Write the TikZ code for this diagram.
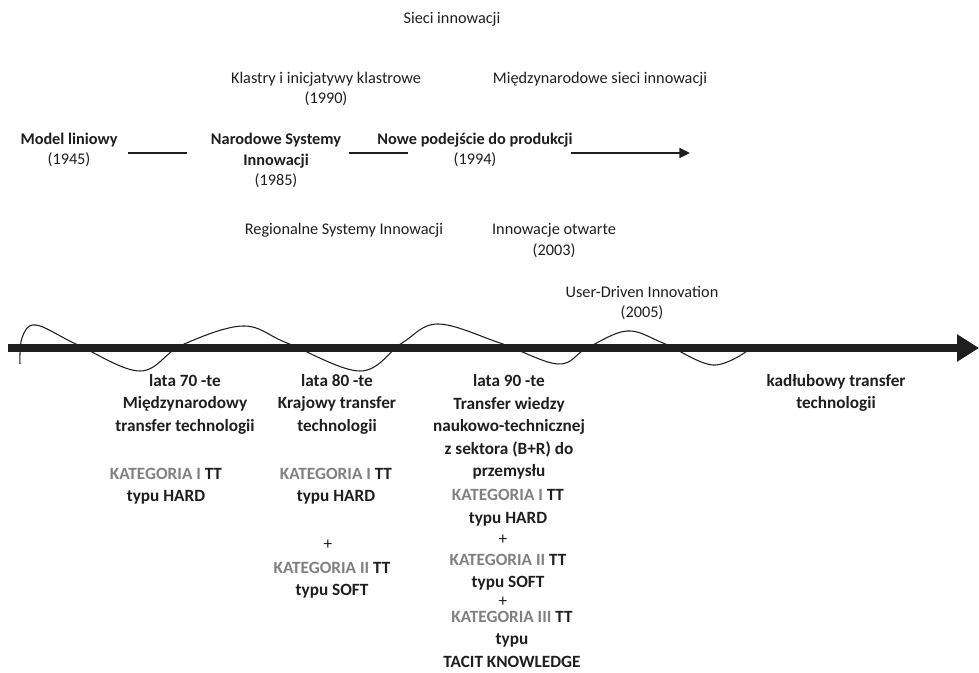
\documentclass[tikz,border=0pt]{standalone}
\usepackage{fontspec}
\setmainfont{Carlito}
\usetikzlibrary{arrows.meta}
\definecolor{catgray}{RGB}{128,128,128}
\definecolor{ink}{RGB}{30,30,30}

\begin{document}
\begin{tikzpicture}[x=0.75pt,y=-0.75pt,
  every node/.style={inner sep=0pt,align=center,text=ink},
  toptxt/.style={font=\fontsize{12.2}{15.5}\selectfont},
  topbold/.style={font=\fontsize{12.2}{15.5}\selectfont\bfseries},
  lowtxt/.style={font=\fontsize{12.9}{16.9}\selectfont\bfseries},
  plustxt/.style={font=\fontsize{12.9}{16.9}\selectfont},
  timeline/.style={draw=ink,line width=1.5pt}]
\useasboundingbox (0,0) rectangle (979,673);
% upper part: models of innovation
\node[toptxt] (sieci) at (452,19) {Sieci innowacji};
\node[toptxt] (klastry) at (326,89) {Klastry i inicjatywy klastrowe\\(1990)};
\node[toptxt] (miedzy) at (600,79) {Międzynarodowe sieci innowacji};
\node[topbold] (model) at (69,150) {Model liniowy\\\mdseries(1945)};
\node[topbold] (narod) at (276,160.5) {Narodowe Systemy\\Innowacji\\\mdseries(1985)};
\node[topbold] (nowe) at (475,150) {Nowe podejście do produkcji\\\mdseries(1994)};
\node[toptxt] (region) at (344,230) {Regionalne Systemy Innowacji};
\node[toptxt] (otwarte) at (554,240.5) {Innowacje otwarte\\(2003)};
\node[toptxt] (user) at (642,303) {User-Driven Innovation\\(2005)};
\coordinate (la) at (128,153);
\coordinate (lb) at (187,153);
\coordinate (lc) at (349,153);
\coordinate (ld) at (408,153);
\coordinate (le) at (571,153);
\coordinate (lf) at (690,153);
\draw[timeline] (la) -- (lb);
\draw[timeline] (lc) -- (ld);
\draw[timeline,-{Triangle[length=8pt,width=7.5pt]}] (le) -- (lf);
% wave and main axis
\draw[ink,line width=0.8pt] plot[smooth,tension=0.6] coordinates {(20,364) (22,338) (36,325)
  (78,345) (140,371) (182,345) (243,326) (287,343) (360,371) (402,343) (438,324)
  (500,343) (558,364) (587,348) (627,331) (663,343) (713,365) (750,349)};
\coordinate (axl) at (8,348);
\coordinate (axr) at (979,348);
\draw[ink,line width=6pt,-{Triangle[length=16.5pt,width=19.5pt]}] (axl) -- (axr);
% lower part: technology transfer
\node[lowtxt] (lata70) at (185,404) {lata 70 -te\\Międzynarodowy\\transfer technologii};
\node[lowtxt] (kat70) at (166,486) {{\color{catgray}KATEGORIA I} TT\\typu HARD};
\node[lowtxt] (lata80) at (337,404) {lata 80 -te\\Krajowy transfer\\technologii};
\node[lowtxt] (kat80a) at (336,486) {{\color{catgray}KATEGORIA I} TT\\typu HARD};
\node[plustxt] (plus80) at (328,545) {+};
\node[lowtxt] (kat80b) at (332,580) {{\color{catgray}KATEGORIA II} TT\\typu SOFT};
\node[lowtxt] (lata90) at (509,427) {lata 90 -te\\Transfer wiedzy\\naukowo-technicznej\\z sektora (B+R) do\\przemysłu};
\node[lowtxt] (kat90a) at (508,507.5) {{\color{catgray}KATEGORIA I} TT\\typu HARD};
\node[plustxt] (plus90a) at (503,540) {+};
\node[lowtxt] (kat90b) at (508,572) {{\color{catgray}KATEGORIA II} TT\\typu SOFT};
\node[plustxt] (plus90b) at (503,602) {+};
\node[lowtxt] (kat90c) at (512,639) {{\color{catgray}KATEGORIA III} TT\\typu\\TACIT KNOWLEDGE};
\node[lowtxt] (kadlub) at (836,393) {kadłubowy transfer\\technologii};
\end{tikzpicture}
\end{document}
